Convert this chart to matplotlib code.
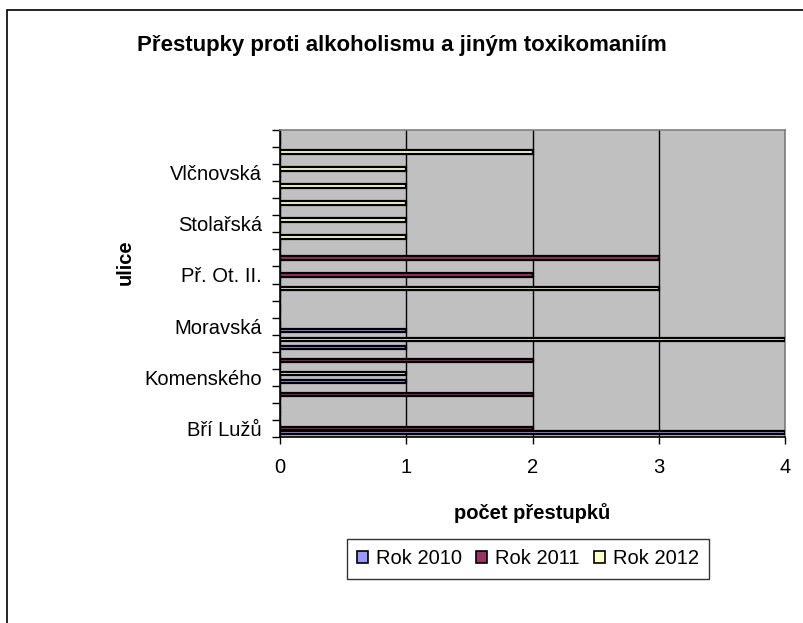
import matplotlib
matplotlib.use("Agg")
import matplotlib.pyplot as plt
import numpy as np
from matplotlib.patches import Patch, Rectangle

plt.rcParams["font.family"] = ["Liberation Sans", "DejaVu Sans"]

# category slots from top to bottom (18 rows on the axis), street names shown on every third one
n_slots = 18
streets = ["Vlčnovská", "Stolařská", "Př. Ot. II.", "Moravská", "Komenského", "Bří Lužů"]

series = ["Rok 2010", "Rok 2011", "Rok 2012"]
colors = ["#9999FF", "#993366", "#FFFFCC"]

rok_2010 = [0, 0, 0, 0, 0, 0, 0, 0, 0, 0, 0, 1, 1, 0, 1, 0, 0, 4]
rok_2011 = [0, 0, 0, 0, 0, 0, 0, 3, 2, 0, 0, 0, 0, 2, 0, 2, 0, 2]
rok_2012 = [0, 2, 1, 1, 1, 1, 1, 0, 0, 3, 0, 0, 4, 0, 1, 0, 0, 0]
values = [rok_2010, rok_2011, rok_2012]

fig = plt.figure(figsize=(8.04, 6.23), dpi=100)
ax = fig.add_axes([280 / 804, 1 - 437 / 623, 505 / 804, 307 / 623])
ax.set_facecolor("#C0C0C0")

slots = np.arange(n_slots)
offsets = [0.24, 0.0, -0.22]
for vals, col, off in zip(values, colors, offsets):
    ax.barh(slots + off, vals, height=0.2, color=col, edgecolor="black",
            linewidth=1.6, zorder=3)

ax.set_xlim(0, 4)
ax.set_ylim(n_slots - 0.5, -0.5)
ax.set_xticks(range(5))
ax.xaxis.grid(True, color="black", linewidth=1, zorder=1)
ax.set_axisbelow(True)

ax.set_yticks(np.arange(-0.5, n_slots, 1), minor=True)
ax.set_yticks(np.arange(2, n_slots, 3))
ax.set_yticklabels(streets)
ax.tick_params(axis="y", which="minor", length=6, width=1, color="black")
ax.tick_params(axis="y", which="major", length=0, pad=13, labelsize=14.5)
ax.tick_params(axis="x", length=5, width=1, pad=10, labelsize=14.5)

for side in ["left", "bottom"]:
    ax.spines[side].set_color("black")
    ax.spines[side].set_linewidth(1.2)
for side in ["top", "right"]:
    ax.spines[side].set_color("#808080")
    ax.spines[side].set_linewidth(1.2)

fig.text(402 / 804, 1 - 45 / 623, "Přestupky proti alkoholismu a jiným toxikomaniím",
         ha="center", va="center", fontsize=16, fontweight="bold")
fig.text(532 / 804, 1 - 513 / 623, "počet přestupků", ha="center", va="center",
         fontsize=14.5, fontweight="bold")
fig.text(125 / 804, 1 - 262 / 623, "ulice", ha="center", va="center",
         rotation=90, fontsize=14.5, fontweight="bold")

handles = [Patch(facecolor=c, edgecolor="black", linewidth=1.2) for c in colors]
leg = fig.legend(handles, series, ncol=3, loc="center",
                 bbox_to_anchor=(528 / 804, 1 - 559 / 623), fontsize=14.5,
                 frameon=True, fancybox=False, handlelength=0.55, handleheight=0.55,
                 handletextpad=0.4, columnspacing=0.7, borderpad=0.5)
leg.get_frame().set_edgecolor("black")
leg.get_frame().set_linewidth(1)

fig.patches.append(Rectangle((7 / 804, -0.1), 1.2, 1.1 - 10 / 623, transform=fig.transFigure,
                             fill=False, edgecolor="black", linewidth=1.2))

fig.savefig("out.png", dpi=100)
